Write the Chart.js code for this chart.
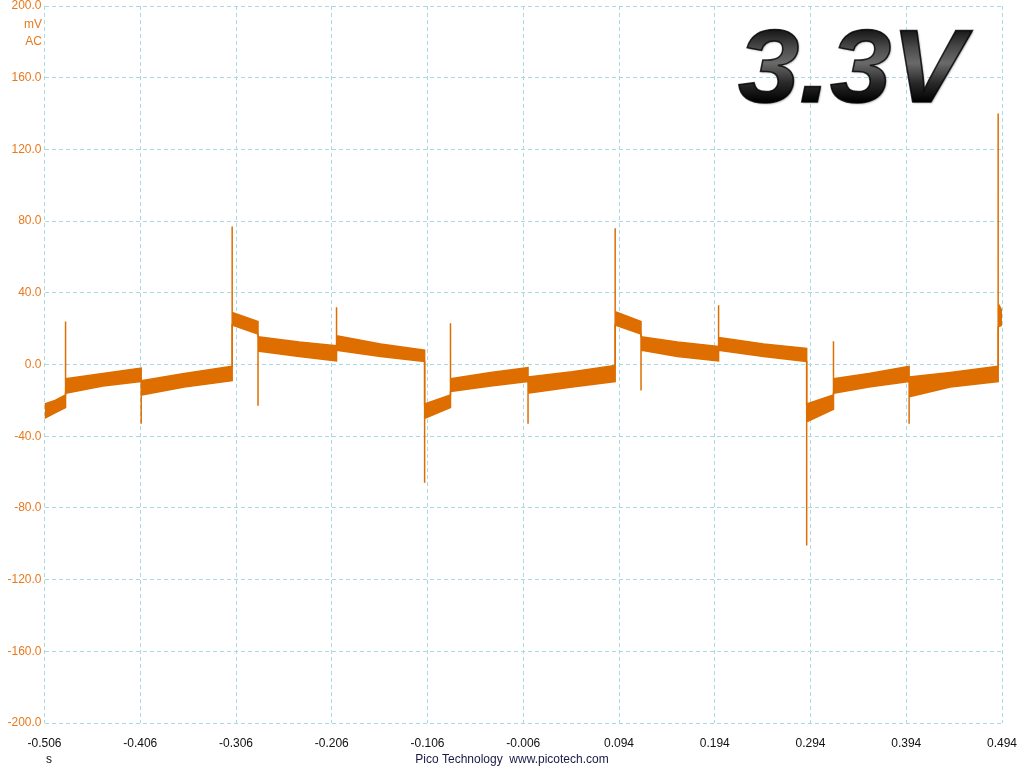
<!DOCTYPE html>
<html>
<head>
<meta charset="utf-8">
<script src="https://cdn.jsdelivr.net/npm/chart.js@4/dist/chart.umd.min.js"></script>
<style>
html,body{margin:0;padding:0;background:#fff;}
#wrap{width:1024px;height:768px;position:relative;}
</style>
</head>
<body>
<div id="wrap"><canvas id="scope"></canvas></div>
<script>
// time in s, upper / lower edge of the noisy trace in mV
// spikes are three points at the same time: before, spike, after
const timeS = [
-0.506,-0.495,-0.484,-0.484,-0.484,
-0.445,-0.405,-0.405,-0.405,
-0.360,-0.310,-0.310,-0.310,
-0.283,-0.283,-0.283,
-0.240,-0.201,-0.201,-0.201,
-0.155,-0.109,-0.109,-0.109,
-0.082,-0.082,-0.082,
-0.040,-0.001,-0.001,-0.001,
0.045,0.090,0.090,0.090,
0.117,0.117,0.117,
0.155,0.198,0.198,0.198,
0.245,0.290,0.290,0.290,
0.318,0.318,0.318,
0.355,0.397,0.397,0.397,
0.440,0.490,0.490,0.490,
0.494
];
const upperMv = [
-22,-20,-17,24,-8,
-5,-2,-9,-9,
-5,-1,77,29,
24,15.5,15.5,
12.5,10.5,32,16,
11.5,8,-22,-22,
-17,23,-8,
-4.5,-1.7,-7,-7,
-4,-0.5,76,29.5,
24,15.5,15.5,
12.5,10,33,15,
11.5,9,-22,-22,
-17,13,-8,
-5,-1,-7,-7,
-4.5,-1,140,34,
30
];
const lowerMv = [
-30,-27,-24,-16,-16,
-12,-9.5,-33,-17,
-12.5,-9,22,22,
17,-23,7.5,
4.5,2,8,8,
4.5,1.7,-66,-30,
-24,-15,-15,
-12,-9.5,-33,-16,
-12.5,-9.5,22,22,
17,-14.5,8,
4.5,2,8,8,
4.5,1.7,-101,-32,
-25,-16,-16,
-12.5,-9.5,-33,-18,
-12.5,-9.5,21,21,
22
];
const xTicks = [-0.506,-0.406,-0.306,-0.206,-0.106,-0.006,0.094,0.194,0.294,0.394,0.494];
const yTicks = [-200,-160,-120,-80,-40,0,40,80,120,160,200];

const traceColor = "#DE6E00";
const gridColor = "#A9D8E6";
const orange = "#E8791E";
const font = "'Liberation Sans', Arial, sans-serif";

const upperPts = timeS.map((t,i)=>({x:t,y:upperMv[i]}));
const lowerPts = timeS.map((t,i)=>({x:t,y:lowerMv[i]}));

const extras = {
  id:"extras",
  afterDraw(chart){
    const c = chart.ctx;
    c.save();
    c.font = "12px " + font;
    c.fillStyle = orange;
    c.textAlign = "right";
    c.textBaseline = "middle";
    c.fillText("mV", 42, 25);
    c.fillText("AC", 42, 42);
    c.fillStyle = "#111";
    c.textAlign = "center";
    c.fillText("s", 49, 760);
    c.fillStyle = "#1a1a48";
    c.fillText("Pico Technology  www.picotech.com", 512, 760);

    // big label
    c.translate(738, 102);
    c.scale(1.07, 1);
    c.font = "italic bold 103px " + font;
    c.textAlign = "left";
    c.textBaseline = "alphabetic";
    const g = c.createLinearGradient(0, -78, 0, 0);
    g.addColorStop(0, "#050505");
    g.addColorStop(0.3, "#4a4a4a");
    g.addColorStop(0.5, "#6a6a6a");
    g.addColorStop(0.75, "#2a2a2a");
    g.addColorStop(1, "#000");
    c.shadowColor = "rgba(0,0,0,0.4)";
    c.shadowBlur = 2;
    c.shadowOffsetX = 1;
    c.shadowOffsetY = 1;
    c.fillStyle = g;
    c.fillText("3.3V", 0, 0);
    c.shadowColor = "transparent";
    c.strokeStyle = "rgba(0,0,0,0.8)";
    c.lineWidth = 1.5;
    c.strokeText("3.3V", 0, 0);
    c.restore();
  }
};

new Chart(document.getElementById("scope"), {
type:"line",
data:{
datasets:[
{
data:upperPts,
borderColor:traceColor,
backgroundColor:traceColor,
borderWidth:1.5,
pointRadius:0,
tension:0,
fill:"+1"
},
{
data:lowerPts,
borderColor:traceColor,
borderWidth:1.5,
pointRadius:0,
tension:0,
fill:false
}
]
},
options:{
responsive:true,
maintainAspectRatio:false,
animation:false,
layout:{padding:{top:6,right:22,left:0,bottom:0}},
plugins:{
legend:{display:false},
tooltip:{enabled:false}
},
scales:{
x:{
type:"linear",
min:-0.506,
max:0.494,
afterBuildTicks:s=>{ s.ticks = xTicks.map(v=>({value:v})); },
afterFit:s=>{ s.height = 45; s.paddingLeft = 0; s.paddingRight = 0; },
grid:{color:gridColor,drawTicks:false,lineWidth:1},
border:{display:false,dash:[4,3]},
ticks:{
color:"#111",
padding:13,
maxRotation:0,
autoSkip:false,
font:{family:font,size:12},
callback:v=>v.toFixed(3)
}
},
y:{
min:-200,
max:200,
afterBuildTicks:s=>{ s.ticks = yTicks.map(v=>({value:v})); },
afterFit:s=>{ s.width = 44.5; s.paddingTop = 0; s.paddingBottom = 0; },
grid:{color:gridColor,drawTicks:false,lineWidth:1},
border:{display:false,dash:[4,3]},
ticks:{
color:orange,
padding:3,
font:{family:font,size:12},
callback:v=>v.toFixed(1)
}
}
}
},
plugins:[extras]
});
</script>
</body>
</html>
